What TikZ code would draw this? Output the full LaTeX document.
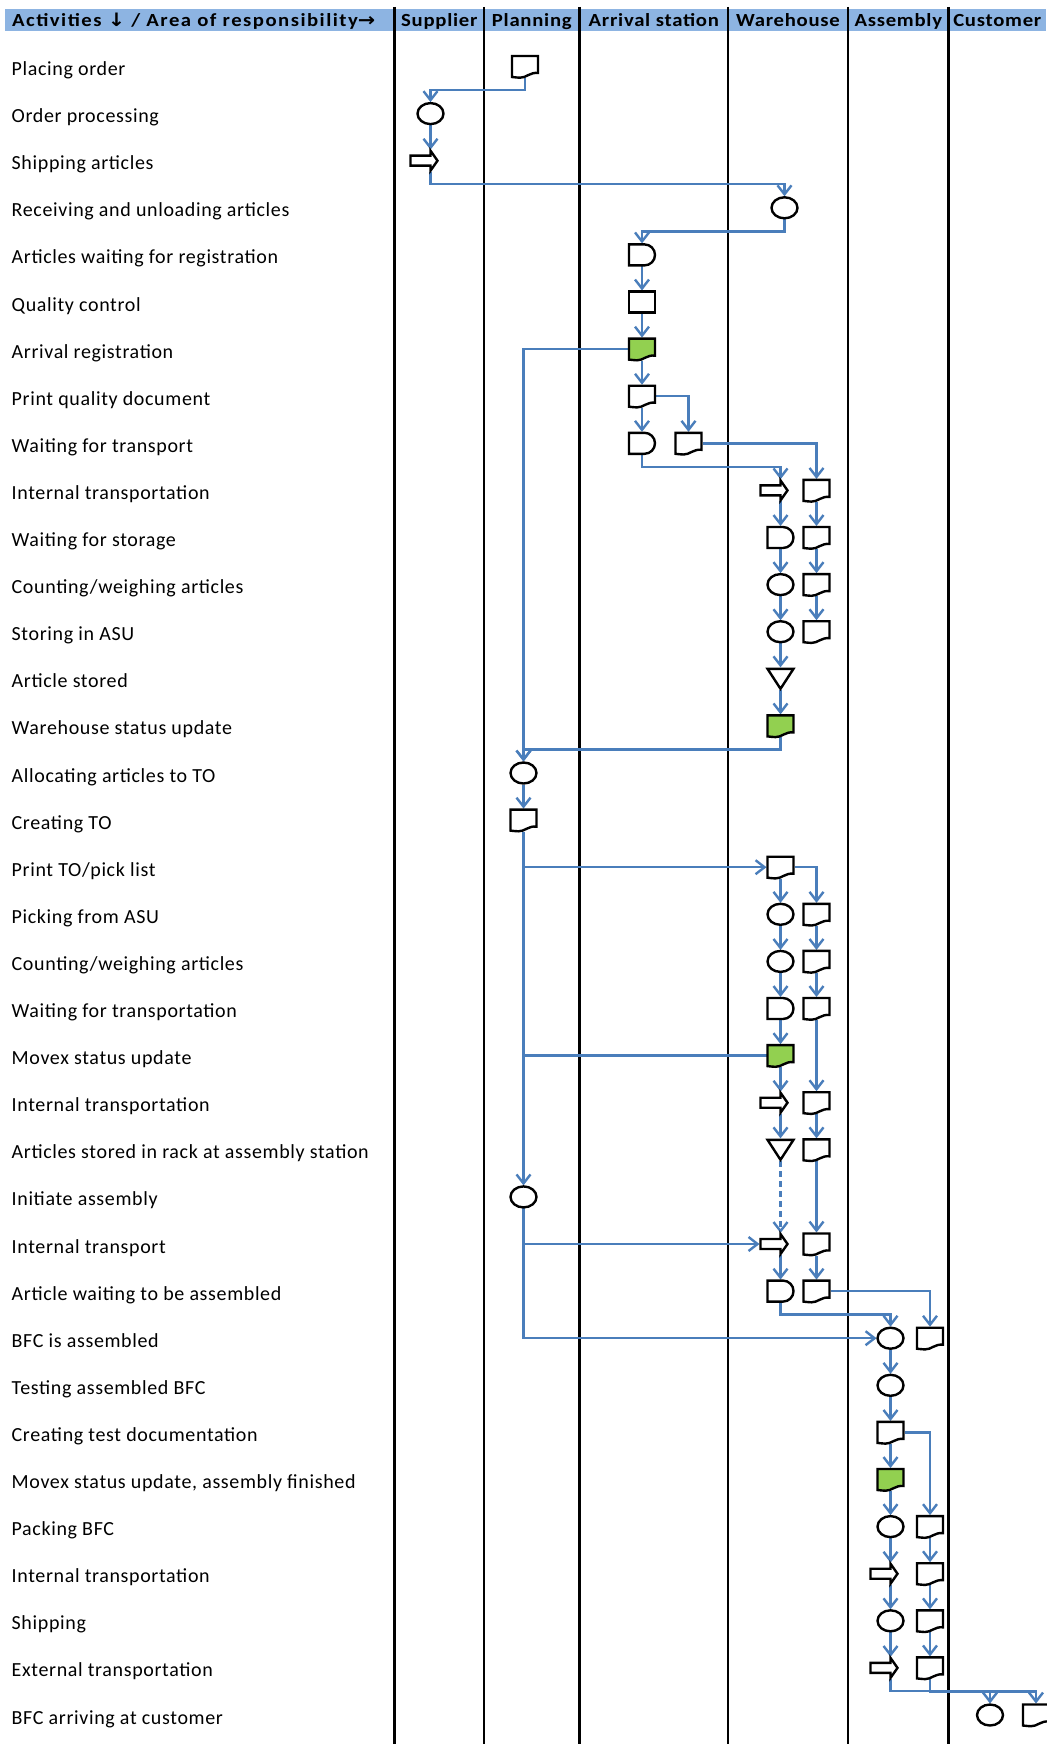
\documentclass[tikz,border=0pt]{standalone}
\usepackage{fontspec}
\setmainfont{Carlito}
\newfontfamily\rowfont{Carlito}[LetterSpace=3.2]
\newfontfamily\headfont{Carlito}[FakeStretch=1.12,LetterSpace=4]
\newfontfamily\headwidefont{Carlito}[FakeStretch=1.12,LetterSpace=8]
\newfontfamily\symfont{DejaVu Sans}[FakeStretch=1.12]
\usetikzlibrary{arrows.meta,calc}

\definecolor{headblue}{RGB}{141,180,226}
\definecolor{linkblue}{RGB}{74,126,187}
\definecolor{okgreen}{RGB}{146,208,80}

% vertical centre of activity row #1
\newcommand\rowy[1]{66.5+47.1*#1}

% outlines of the flow-chart symbols, drawn around a named node
\newcommand\ovalshape[1]{\draw[shapeline] (#1.center) ellipse [x radius=13, y radius=10.5];}
\newcommand\boxshape[1]{\draw[shapeline,shift={(#1.center)}] (-13,-10.5) rectangle (13,10.5);}
\newcommand\docshape[2][white]{\draw[shapeline,fill=#1,shift={(#2.center)}]
  (-13,-10.5) -- (13,-10.5) -- (13,6.5) .. controls (5,5.5) and (1,11.5) .. (-5,11.2)
  .. controls (-9,11) and (-11,10.7) .. (-13,10.5) -- cycle;}
\newcommand\delayshape[1]{\draw[shapeline,shift={(#1.center)}]
  (-13,-10.5) -- (2.5,-10.5) arc[start angle=-90,end angle=90,radius=10.5] -- (-13,10.5) -- cycle;}
\newcommand\moveshape[1]{\draw[shapeline,shift={(#1.center)}]
  (-20,-5) -- (0,-5) -- (0,-10) -- (7,0) -- (0,10) -- (0,5) -- (-20,5) -- cycle;}
\newcommand\storeshape[1]{\draw[shapeline,shift={(#1.center)}]
  (-13,-10) -- (13,-10) -- (0,10) -- cycle;}

\begin{document}
\begin{tikzpicture}[x=1pt,y=-1pt,
  stepbox/.style={draw=none, inner sep=0, outer sep=0, minimum width=28, minimum height=23},
  arrowbox/.style={stepbox, minimum width=42, minimum height=22},
  flow/.style={draw=linkblue, line width=2.4, -{Straight Barb[length=9pt,width=14pt]}},
  plainflow/.style={draw=linkblue, line width=2.4},
  dashflow/.style={flow, dash pattern=on 6pt off 4pt},
  elbow/.style={to path={|- ($(\tikztostart)!0.5!(\tikztotarget)$) -| (\tikztotarget)}},
  shapeline/.style={draw=black, line width=2.4, fill=white, line join=miter},
  rowtext/.style={anchor=base west, inner sep=0, font=\rowfont\fontsize{20}{22}\selectfont},
  colhead/.style={anchor=base, inner sep=0, font=\headfont\bfseries\fontsize{18.5}{20}\selectfont},
  lane/.style={draw=black, line width=2.3}
]
\useasboundingbox (0,0) rectangle (1046,1744);
\fill[white] (0,0) rectangle (1046,1744);

% header band and swim-lane separators
\fill[headblue] (5,9) rectangle (1046,31);
\foreach \x in {394.5,484,579.5,728,848,948.5}
  \draw[lane] (\x,7) -- (\x,1744);

\node[colhead,anchor=base west,font=\headwidefont\bfseries\fontsize{18.5}{20}\selectfont] (hAct) at (12,26.3)
  {Activities {\symfont\bfseries↓} / Area of responsibility{\symfont\bfseries→}};
\node[colhead] (hSup) at (439.3,26.3) {Supplier};
\node[colhead] (hPla) at (531.8,26.3) {Planning};
\node[colhead] (hArr) at (653.8,26.3) {Arrival station};
\node[colhead] (hWar) at (788,26.3) {Warehouse};
\node[colhead] (hAss) at (898.3,26.3) {Assembly};
\node[colhead] (hCus) at (997.3,26.3) {Customer};

% activity names
\foreach \t [count=\i from 0] in {Placing order, Order processing, Shipping articles,
  Receiving and unloading articles, Articles waiting for registration, Quality control,
  Arrival registration, Print quality document, Waiting for transport,
  Internal transportation, Waiting for storage, Counting/weighing articles,
  Storing in ASU, Article stored, Warehouse status update, Allocating articles to TO,
  Creating TO, Print TO/pick list, Picking from ASU, Counting/weighing articles,
  Waiting for transportation, Movex status update, Internal transportation,
  Articles stored in rack at assembly station, Initiate assembly, Internal transport,
  Article waiting to be assembled, BFC is assembled, Testing assembled BFC,
  Creating test documentation, {Movex status update, assembly finished}, Packing BFC,
  Internal transportation, Shipping, External transportation, BFC arriving at customer}
  \node[rowtext] (act\i) at (11.5,{\rowy{\i}+9}) {\t};

% process steps
\node[stepbox]  (p0)  at (525,{\rowy{0}}) {};
\node[stepbox]  (s1)  at (430.5,{\rowy{1}}) {};
\node[arrowbox] (s2)  at (430.5,{\rowy{2}}) {};
\node[stepbox]  (w3)  at (784.5,{\rowy{3}}) {};
\node[stepbox]  (a4)  at (642,{\rowy{4}}) {};
\node[stepbox]  (a5)  at (642,{\rowy{5}}) {};
\node[stepbox]  (a6)  at (642,{\rowy{6}}) {};
\node[stepbox]  (a7)  at (642,{\rowy{7}}) {};
\node[stepbox]  (a8)  at (642,{\rowy{8}}) {};
\node[stepbox]  (a8b) at (688.5,{\rowy{8}}) {};
\node[arrowbox] (w9)  at (780.5,{\rowy{9}}) {};
\node[stepbox]  (w9b) at (816.5,{\rowy{9}}) {};
\node[stepbox]  (w10) at (780.5,{\rowy{10}}) {};
\node[stepbox]  (w10b) at (816.5,{\rowy{10}}) {};
\node[stepbox]  (w11) at (780.5,{\rowy{11}}) {};
\node[stepbox]  (w11b) at (816.5,{\rowy{11}}) {};
\node[stepbox]  (w12) at (780.5,{\rowy{12}}) {};
\node[stepbox]  (w12b) at (816.5,{\rowy{12}}) {};
\node[stepbox]  (w13) at (780.5,{\rowy{13}}) {};
\node[stepbox]  (w14) at (780.5,{\rowy{14}}) {};
\node[stepbox]  (p15) at (523.5,{\rowy{15}}) {};
\node[stepbox]  (p16) at (523.5,{\rowy{16}}) {};
\node[stepbox]  (w17) at (780.5,{\rowy{17}}) {};
\node[stepbox]  (w18) at (780.5,{\rowy{18}}) {};
\node[stepbox]  (w18b) at (816.5,{\rowy{18}}) {};
\node[stepbox]  (w19) at (780.5,{\rowy{19}}) {};
\node[stepbox]  (w19b) at (816.5,{\rowy{19}}) {};
\node[stepbox]  (w20) at (780.5,{\rowy{20}}) {};
\node[stepbox]  (w20b) at (816.5,{\rowy{20}}) {};
\node[stepbox]  (w21) at (780.5,{\rowy{21}}) {};
\node[arrowbox] (w22) at (780.5,{\rowy{22}}) {};
\node[stepbox]  (w22b) at (816.5,{\rowy{22}}) {};
\node[stepbox]  (w23) at (780.5,{\rowy{23}}) {};
\node[stepbox]  (w23b) at (816.5,{\rowy{23}}) {};
\node[stepbox]  (p24) at (523.5,{\rowy{24}}) {};
\node[arrowbox] (w25) at (780.5,{\rowy{25}}) {};
\node[stepbox]  (w25b) at (816.5,{\rowy{25}}) {};
\node[stepbox]  (w26) at (780.5,{\rowy{26}}) {};
\node[stepbox]  (w26b) at (816.5,{\rowy{26}}) {};
\node[stepbox]  (m27) at (890.5,{\rowy{27}}) {};
\node[stepbox]  (m27b) at (930,{\rowy{27}}) {};
\node[stepbox]  (m28) at (890.5,{\rowy{28}}) {};
\node[stepbox]  (m29) at (890.5,{\rowy{29}}) {};
\node[stepbox]  (m30) at (890.5,{\rowy{30}}) {};
\node[stepbox]  (m31) at (890.5,{\rowy{31}}) {};
\node[stepbox]  (m31b) at (930,{\rowy{31}}) {};
\node[arrowbox] (m32) at (890.5,{\rowy{32}}) {};
\node[stepbox]  (m32b) at (930,{\rowy{32}}) {};
\node[stepbox]  (m33) at (890.5,{\rowy{33}}) {};
\node[stepbox]  (m33b) at (930,{\rowy{33}}) {};
\node[arrowbox] (m34) at (890.5,{\rowy{34}}) {};
\node[stepbox]  (m34b) at (930,{\rowy{34}}) {};
\node[stepbox]  (c35) at (990,{\rowy{35}}) {};
\node[stepbox]  (c35b) at (1036,{\rowy{35}}) {};

% connectors
\draw[flow] (p0.south) to[elbow] (s1.north);
\draw[flow] (s1.south) -- (s2.north);
\draw[flow] (s2.south) to[elbow] (w3.north);
\draw[flow] (w3.south) to[elbow] (a4.north);
\draw[flow] (a4.south) -- (a5.north);
\draw[flow] (a5.south) -- (a6.north);
\draw[flow] (a6.south) -- (a7.north);
\draw[flow] (a7.south) -- (a8.north);
\draw[flow] (a6.west) -| (p15.north);
\draw[flow] (a7.east) -| (a8b.north);
\draw[flow] (a8.south) to[elbow] (w9.north);
\draw[flow] (a8b.east) -| (w9b.north);
\draw[flow] (w9.south) -- (w10.north);
\draw[flow] (w10.south) -- (w11.north);
\draw[flow] (w11.south) -- (w12.north);
\draw[flow] (w12.south) -- (w13.north);
\draw[flow] (w13.south) -- (w14.north);
\draw[flow] (w9b.south) -- (w10b.north);
\draw[flow] (w10b.south) -- (w11b.north);
\draw[flow] (w11b.south) -- (w12b.north);
\draw[flow] (w14.south) to[elbow] (p15.north);
\draw[flow] (p15.south) -- (p16.north);
\draw[flow] (p16.south) -- (p24.north);
\draw[flow] (p16.south |- w17.west) -- (w17.west);
\draw[flow] (w17.south) -- (w18.north);
\draw[flow] (w17.east) -| (w18b.north);
\draw[flow] (w18.south) -- (w19.north);
\draw[flow] (w19.south) -- (w20.north);
\draw[flow] (w20.south) -- (w21.north);
\draw[flow] (w21.south) -- (w22.north);
\draw[flow] (w22.south) -- (w23.north);
\draw[dashflow] (w23.south) -- (w25.north);
\draw[flow] (w25.south) -- (w26.north);
\draw[flow] (w18b.south) -- (w19b.north);
\draw[flow] (w19b.south) -- (w20b.north);
\draw[flow] (w20b.south) -- (w22b.north);
\draw[flow] (w22b.south) -- (w23b.north);
\draw[flow] (w23b.south) -- (w25b.north);
\draw[flow] (w25b.south) -- (w26b.north);
\draw[plainflow] (w21.west) -- (p16.south |- w21.west);
\draw[flow] (p24.south) |- (m27.west);
\draw[flow] (p24.south |- w25.west) -- (w25.west);
\draw[flow] (w26.south) to[elbow] (m27.north);
\draw[flow] (w26b.east) -| (m27b.north);
\draw[flow] (m27.south) -- (m28.north);
\draw[flow] (m28.south) -- (m29.north);
\draw[flow] (m29.south) -- (m30.north);
\draw[flow] (m30.south) -- (m31.north);
\draw[flow] (m31.south) -- (m32.north);
\draw[flow] (m32.south) -- (m33.north);
\draw[flow] (m33.south) -- (m34.north);
\draw[flow] (m29.east) -| (m31b.north);
\draw[flow] (m31b.south) -- (m32b.north);
\draw[flow] (m32b.south) -- (m33b.north);
\draw[flow] (m33b.south) -- (m34b.north);
\draw[flow] (m34.south) to[elbow] (c35.north);
\draw[flow] (m34b.south) to[elbow] (c35b.north);

% symbols
\foreach \n in {s1,w3,w11,w12,p15,w18,w19,p24,m27,m28,m31,m33,c35} {\ovalshape{\n}}
\boxshape{a5}
\foreach \n in {p0,a7,a8b,w9b,w10b,w11b,w12b,p16,w17,w18b,w19b,w20b,w22b,w23b,
  w25b,w26b,m27b,m29,m31b,m32b,m33b,m34b,c35b} {\docshape{\n}}
\foreach \n in {a6,w14,w21,m30} {\docshape[okgreen]{\n}}
\foreach \n in {a4,a8,w10,w20,w26} {\delayshape{\n}}
\foreach \n in {s2,w9,w22,w25,m32,m34} {\moveshape{\n}}
\foreach \n in {w13,w23} {\storeshape{\n}}
\end{tikzpicture}
\end{document}
